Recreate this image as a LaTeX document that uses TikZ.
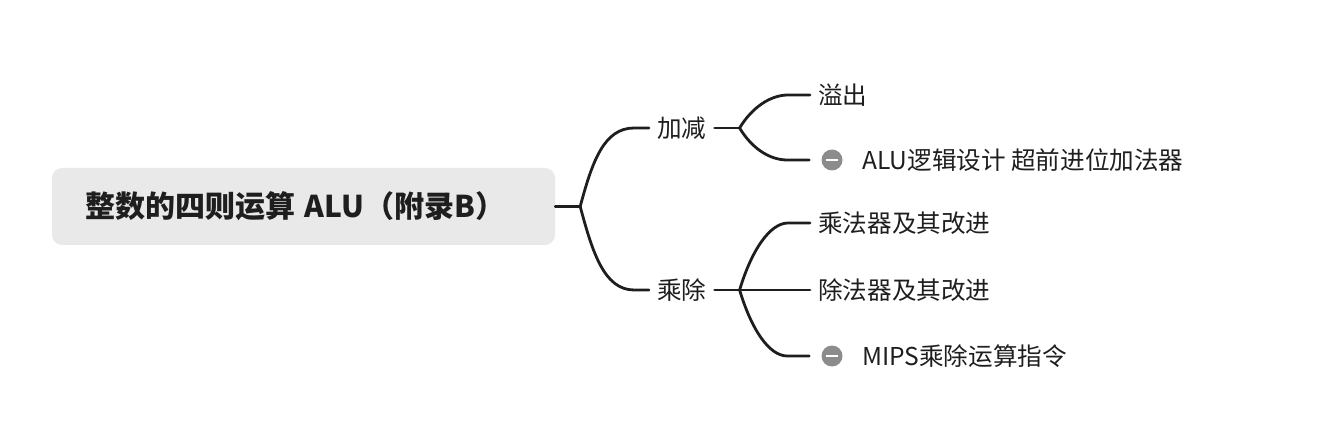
\documentclass[tikz,border=0pt]{standalone}
\usepackage{fontspec}
\usetikzlibrary{calc}
\setmainfont{Noto Sans CJK SC}
\definecolor{ink}{HTML}{1E1E1E}
\definecolor{rootfill}{HTML}{E9E9E9}
\definecolor{icongray}{HTML}{8C8C8C}
\tikzset{
  rootbox/.style={fill=rootfill, rounded corners=10pt, text width=437pt, align=left, inner xsep=33pt, minimum height=77pt, inner ysep=0pt, text=ink, font=\fontsize{30}{34}\selectfont\bfseries},
  topic/.style={inner xsep=8pt, inner ysep=2pt, text=ink, font=\fontsize{24.6}{28}\selectfont, anchor=west},
  icon/.style={circle, fill=icongray, minimum size=21pt, inner sep=0pt, path picture={\draw[white, line width=2.4pt] ($(path picture bounding box.center)+(-6pt,0)$) -- ($(path picture bounding box.center)+(6pt,0)$);}},
  branch/.style={draw=ink, line width=2.8pt, line cap=round, line join=round}
}
\begin{document}
\begin{tikzpicture}[x=1pt, y=-1pt]
\useasboundingbox (0,0) rectangle (1324,438);
% root
\node[rootbox] (root) at (303.5,206.5) {整数的四则运算 ALU（附录B）};
% level 1
\node[topic] (jj) at (649,128) {加减};
\node[topic] (cc) at (649,290) {乘除};
% level 2
\node[topic] (yc) at (810,95) {溢出};
\node[icon] (ic1) at (832,160) {};
\node[topic] (alu) at (854,160) {ALU逻辑设计 超前进位加法器};
\node[topic] (cf) at (810,223) {乘法器及其改进};
\node[topic] (cq) at (810,290) {除法器及其改进};
\node[icon] (ic2) at (832,356) {};
\node[topic] (mips) at (854,356) {MIPS乘除运算指令};
% root connectors
\coordinate (j0) at ($(root.east)+(25,0)$);
\draw[branch] (root.east) -- (j0);
\draw[branch] (j0) .. controls ($(j0)+(12,-45)$) and ($(jj.west)+(-45,0)$) .. ($(jj.west)+(-15,0)$) -- (jj.west);
\draw[branch] (j0) .. controls ($(j0)+(12,45)$) and ($(cc.west)+(-45,0)$) .. ($(cc.west)+(-15,0)$) -- (cc.west);
% 加减 connectors
\coordinate (j1) at ($(jj.east)+(25,0)$);
\draw[branch] (jj.east) -- (j1);
\draw[branch] (j1) .. controls ($(j1)+(12,-20)$) and ($(yc.west)+(-40,0)$) .. ($(yc.west)+(-22,0)$) -- (yc.west);
\draw[branch] (j1) .. controls ($(j1)+(12,20)$) and ($(ic1.west)+(-52,0)$) .. ($(ic1.west)+(-34,0)$) -- ($(ic1.west)+(-12,0)$);
% 乘除 connectors
\coordinate (j2) at ($(cc.east)+(25,0)$);
\draw[branch] (cc.east) -- (j2);
\draw[branch] (j2) .. controls ($(j2)+(12,-40)$) and ($(cf.west)+(-40,0)$) .. ($(cf.west)+(-22,0)$) -- (cf.west);
\draw[branch] (j2) -- (cq.west);
\draw[branch] (j2) .. controls ($(j2)+(12,40)$) and ($(ic2.west)+(-52,0)$) .. ($(ic2.west)+(-34,0)$) -- ($(ic2.west)+(-12,0)$);
\end{tikzpicture}
\end{document}
